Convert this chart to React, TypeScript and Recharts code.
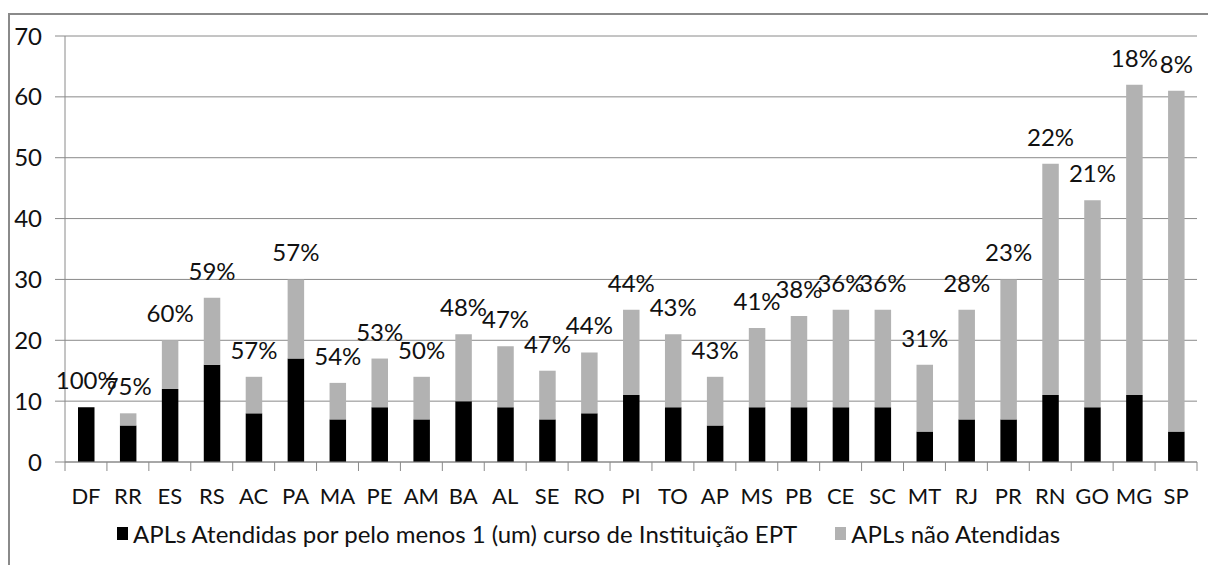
import { Bar, BarChart, CartesianGrid, LabelList, Legend, XAxis, YAxis } from 'recharts'

// Arranjos Produtivos Locais por UF
const states = ['DF', 'RR', 'ES', 'RS', 'AC', 'PA', 'MA', 'PE', 'AM', 'BA', 'AL', 'SE', 'RO', 'PI', 'TO', 'AP', 'MS', 'PB', 'CE', 'SC', 'MT', 'RJ', 'PR', 'RN', 'GO', 'MG', 'SP']
const attended = [9, 6, 12, 16, 8, 17, 7, 9, 7, 10, 9, 7, 8, 11, 9, 6, 9, 9, 9, 9, 5, 7, 7, 11, 9, 11, 5]
const totals = [9, 8, 20, 27, 14, 30, 13, 17, 14, 21, 19, 15, 18, 25, 21, 14, 22, 24, 25, 25, 16, 25, 30, 49, 43, 62, 61]
const yTicks = [0, 10, 20, 30, 40, 50, 60, 70]
const seriesNames = ['APLs Atendidas por pelo menos 1 (um) curso de Instituição EPT', 'APLs não Atendidas']

const data = states.map((uf, i) => ({
  uf,
  atendidas: attended[i],
  naoAtendidas: totals[i] - attended[i],
  pct: `${Math.round((attended[i] / totals[i]) * 100)}%`,
}))

const W = 1208
const H = 565
const MARGIN = { top: 36, right: 11, left: 20, bottom: 0 }
const Y_AXIS_W = 45
const BAND = (W - MARGIN.left - MARGIN.right - Y_AXIS_W) / states.length
const FONT = 'Lato, sans-serif'
const AXIS_COLOR = '#8a8a8a'
const TEXT_COLOR = '#111'

function StateTick(props: any) {
  const { x, y, payload, index } = props
  const half = BAND / 2
  return (
    <g>
      <line x1={x - half} x2={x - half} y1={y} y2={y + 9} stroke={AXIS_COLOR} />
      {index === states.length - 1 && (
        <line x1={x + half} x2={x + half} y1={y} y2={y + 9} stroke={AXIS_COLOR} />
      )}
      <text x={x} y={y + 42} textAnchor="middle" fontFamily={FONT} fontSize={22} fill={TEXT_COLOR}>
        {payload.value}
      </text>
    </g>
  )
}

// share label sits above the whole stack; the black bar's height gives px per unit
function ShareLabel(props: any) {
  const { x, y, width, height, index } = props
  const pxPerUnit = height / attended[index]
  const stackTop = y + height - totals[index] * pxPerUnit
  return (
    <text x={x + width / 2} y={stackTop - 18} textAnchor="middle" fontFamily={FONT} fontSize={24} fill={TEXT_COLOR}>
      {data[index].pct}
    </text>
  )
}

function LegendContent(props: any) {
  const { payload = [] } = props
  return (
    <div style={{ display: 'flex', alignItems: 'center', height: 63, paddingLeft: 97, fontFamily: FONT, fontSize: 24, color: TEXT_COLOR }}>
      {payload.map((item: any) => (
        <div key={item.value} style={{ display: 'flex', alignItems: 'center', marginRight: 38 }}>
          <span style={{ display: 'inline-block', width: 11, height: 13, background: item.color, marginRight: 5 }} />
          <span>{item.value}</span>
        </div>
      ))}
    </div>
  )
}

export default function App() {
  return (
    <div style={{ position: 'absolute', left: 0, top: 0, width: W, height: H, overflow: 'hidden', background: '#fff' }}>
      <div
        style={{
          position: 'absolute',
          left: 8,
          top: 13,
          width: W,
          height: H,
          borderLeft: `2px solid ${AXIS_COLOR}`,
          borderTop: `2px solid ${AXIS_COLOR}`,
        }}
      />
      <BarChart width={W} height={H} data={data} margin={MARGIN} barSize={16.5}>
        <CartesianGrid vertical={false} stroke={AXIS_COLOR} />
        <XAxis
          dataKey="uf"
          stroke={AXIS_COLOR}
          tickLine={false}
          tickSize={0}
          tickMargin={0}
          height={40}
          interval={0}
          tick={<StateTick />}
        />
        <YAxis
          width={Y_AXIS_W}
          domain={[0, 70]}
          ticks={yTicks}
          stroke={AXIS_COLOR}
          tickSize={10}
          tickMargin={13}
          tick={{ fill: TEXT_COLOR, fontSize: 24, fontFamily: FONT }}
        />
        <Legend verticalAlign="bottom" height={63} content={<LegendContent />} />
        <Bar dataKey="atendidas" name={seriesNames[0]} stackId="apl" fill="#000000" isAnimationActive={false}>
          <LabelList dataKey="pct" content={<ShareLabel />} />
        </Bar>
        <Bar dataKey="naoAtendidas" name={seriesNames[1]} stackId="apl" fill="#b2b2b2" isAnimationActive={false} />
      </BarChart>
    </div>
  )
}
